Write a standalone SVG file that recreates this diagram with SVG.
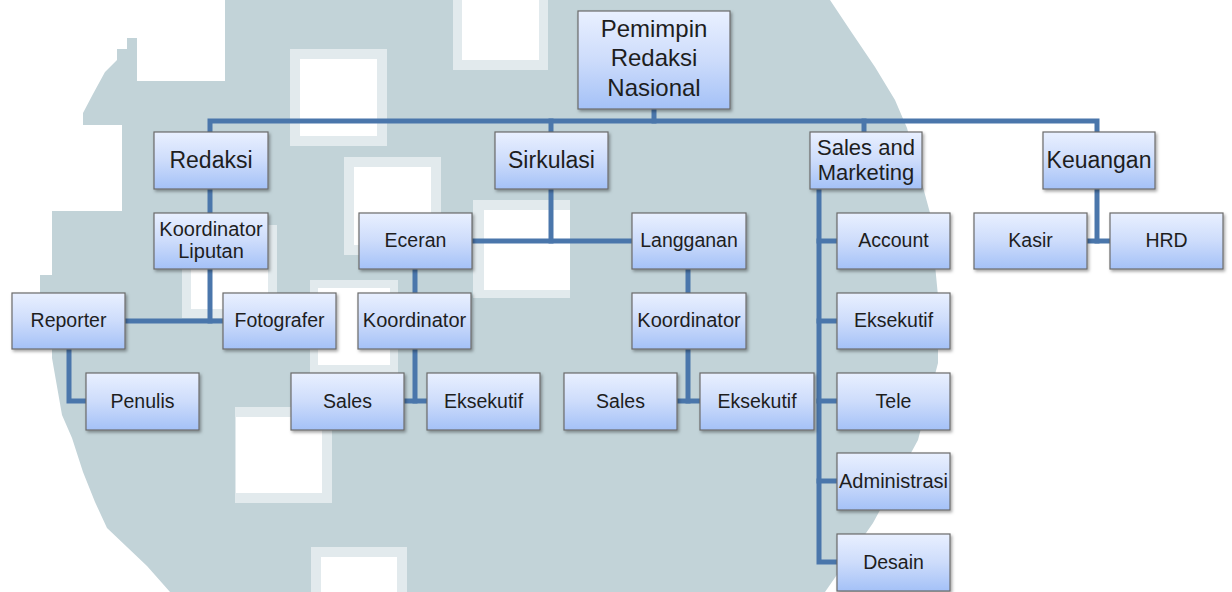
<svg xmlns="http://www.w3.org/2000/svg" width="1232" height="592" viewBox="0 0 1232 592">
<defs>
<linearGradient id="boxg" x1="0" y1="0" x2="0" y2="1">
<stop offset="0" stop-color="#e9f0ff"/>
<stop offset="0.5" stop-color="#cddcfb"/>
<stop offset="1" stop-color="#a4c1f7"/>
</linearGradient>
<filter id="sh" x="-10%" y="-10%" width="130%" height="140%">
<feDropShadow dx="1.5" dy="2" stdDeviation="1.5" flood-color="#000" flood-opacity="0.35"/>
</filter>
</defs>
<style>
.box{fill:url(#boxg);stroke:#6b6b6b;stroke-width:1.2;filter:url(#sh)}
.t{font-family:"Liberation Sans",Arial,sans-serif;font-size:19.5px;fill:#1e1e1e;text-anchor:middle}
.big{font-size:23px}
.mid{font-size:22px}
.sm{font-size:20px}
.c{fill:none;stroke:#4a76ab;stroke-width:5;stroke-linejoin:miter;stroke-linecap:square}
.wm{fill:#c2d3d8}
.fr{fill:#e2eaed}
.wh{fill:#ffffff}
</style>
<rect width="1232" height="592" fill="#ffffff"/>
<g id="watermark">
<path class="wm" d="M225,0 H830 L852,33 L875,67 L895,100 L907,128 L930,213 L938,296 L938,363 L918,440 L873,523 L825,592 H170 L147,566 L127,547 L107,528 L95,502 L83,472 L72,438 L62,415 L52,358 V295 H40 V275 H52 V211 H122 V125 H83 V113 L93,94 L105,72 L117,60 V49 H127 V38 H137 V81 H225 Z"/>
<rect class="fr" x="290" y="49" width="97" height="97"/><rect class="wh" x="300" y="59" width="77" height="77"/>
<rect class="fr" x="344" y="157" width="97" height="98"/><rect class="wh" x="354" y="167" width="77" height="78"/>
<rect class="fr" x="182" y="225" width="95" height="93"/><rect class="wh" x="191" y="234" width="77" height="75"/>
<rect class="fr" x="310" y="280" width="88" height="93"/><rect class="wh" x="318" y="288" width="72" height="77"/>
<rect class="fr" x="235" y="407" width="97" height="96"/><rect class="wh" x="236" y="417" width="86" height="76"/>
<rect class="fr" x="311" y="547" width="96" height="45"/><rect class="wh" x="321" y="557" width="76" height="35"/>
<rect class="fr" x="453" y="0" width="95" height="70"/><rect class="wh" x="462" y="0" width="77" height="60"/>
<rect class="fr" x="473" y="200" width="97" height="98"/><rect class="wh" x="484" y="210" width="86" height="80"/>
</g>
<g id="connectors">
<path class="c" d="M654,109 V121"/>
<path class="c" d="M210,132 V121 H1097 V132"/>
<path class="c" d="M551,121 V132"/>
<path class="c" d="M864,121 V132"/>
<path class="c" d="M210,189 V213"/>
<path class="c" d="M210,269 V321"/>
<path class="c" d="M125,321 H223"/>
<path class="c" d="M69,349 V401 H86"/>
<path class="c" d="M551,189 V241"/>
<path class="c" d="M472,241 H632"/>
<path class="c" d="M415,269 V293"/>
<path class="c" d="M415,349 V401"/>
<path class="c" d="M404,401 H427"/>
<path class="c" d="M688,269 V293"/>
<path class="c" d="M688,349 V401"/>
<path class="c" d="M677,401 H700"/>
<path class="c" d="M819,189 V562 H837"/>
<path class="c" d="M819,241 H837"/>
<path class="c" d="M819,321 H837"/>
<path class="c" d="M819,401 H837"/>
<path class="c" d="M819,481 H837"/>
<path class="c" d="M1097,189 V241"/>
<path class="c" d="M1087,241 H1110"/>
</g>
<g id="pemimpin"><rect class="box" x="578" y="11" width="152" height="98"/><text class="t" x="654" y="37" style="font-size:24px">Pemimpin</text><text class="t" x="654" y="66" style="font-size:24px">Redaksi</text><text class="t" x="654" y="96" style="font-size:24px">Nasional</text></g>
<g id="redaksi"><rect class="box" x="154" y="132" width="114" height="57"/><text class="t big" x="211" y="168">Redaksi</text></g>
<g id="sirkulasi"><rect class="box" x="495" y="132" width="113" height="57"/><text class="t big" x="551.5" y="168">Sirkulasi</text></g>
<g id="sales-marketing"><rect class="box" x="810" y="132" width="112" height="57"/><text class="t mid" x="866" y="155">Sales and</text><text class="t mid" x="866" y="180">Marketing</text></g>
<g id="keuangan"><rect class="box" x="1043" y="132" width="112" height="57"/><text class="t big" x="1099" y="168">Keuangan</text></g>
<g id="koordinator-liputan"><rect class="box" x="154" y="213" width="114" height="56"/><text class="t sm" x="211" y="236">Koordinator</text><text class="t sm" x="211" y="258">Liputan</text></g>
<g id="eceran"><rect class="box" x="359" y="213" width="113" height="56"/><text class="t" x="415.5" y="247">Eceran</text></g>
<g id="langganan"><rect class="box" x="632" y="213" width="114" height="56"/><text class="t" x="689" y="247">Langganan</text></g>
<g id="account"><rect class="box" x="837" y="213" width="113" height="56"/><text class="t" x="893.5" y="247">Account</text></g>
<g id="kasir"><rect class="box" x="974" y="213" width="113" height="56"/><text class="t" x="1030.5" y="247">Kasir</text></g>
<g id="hrd"><rect class="box" x="1110" y="213" width="113" height="56"/><text class="t" x="1166.5" y="247">HRD</text></g>
<g id="reporter"><rect class="box" x="12" y="293" width="113" height="56"/><text class="t" x="68.5" y="327">Reporter</text></g>
<g id="fotografer"><rect class="box" x="223" y="293" width="113" height="56"/><text class="t" x="279.5" y="327">Fotografer</text></g>
<g id="koordinator-eceran"><rect class="box" x="358" y="293" width="113" height="56"/><text class="t" x="414.5" y="327" style="font-size:20px">Koordinator</text></g>
<g id="koordinator-langganan"><rect class="box" x="632" y="293" width="114" height="56"/><text class="t" x="689" y="327" style="font-size:20px">Koordinator</text></g>
<g id="eksekutif-sm"><rect class="box" x="837" y="293" width="113" height="56"/><text class="t" x="893.5" y="327">Eksekutif</text></g>
<g id="penulis"><rect class="box" x="86" y="373" width="113" height="57"/><text class="t" x="142.5" y="408">Penulis</text></g>
<g id="sales-eceran"><rect class="box" x="291" y="373" width="113" height="57"/><text class="t" x="347.5" y="408">Sales</text></g>
<g id="eksekutif-eceran"><rect class="box" x="427" y="373" width="113" height="57"/><text class="t" x="483.5" y="408">Eksekutif</text></g>
<g id="sales-langganan"><rect class="box" x="564" y="373" width="113" height="57"/><text class="t" x="620.5" y="408">Sales</text></g>
<g id="eksekutif-langganan"><rect class="box" x="700" y="373" width="114" height="57"/><text class="t" x="757" y="408">Eksekutif</text></g>
<g id="tele"><rect class="box" x="837" y="373" width="113" height="57"/><text class="t" x="893.5" y="408">Tele</text></g>
<g id="administrasi"><rect class="box" x="837" y="453" width="113" height="57"/><text class="t" x="893.5" y="488" style="font-size:20px">Administrasi</text></g>
<g id="desain"><rect class="box" x="837" y="534" width="113" height="57"/><text class="t" x="893.5" y="569">Desain</text></g>
</svg>
